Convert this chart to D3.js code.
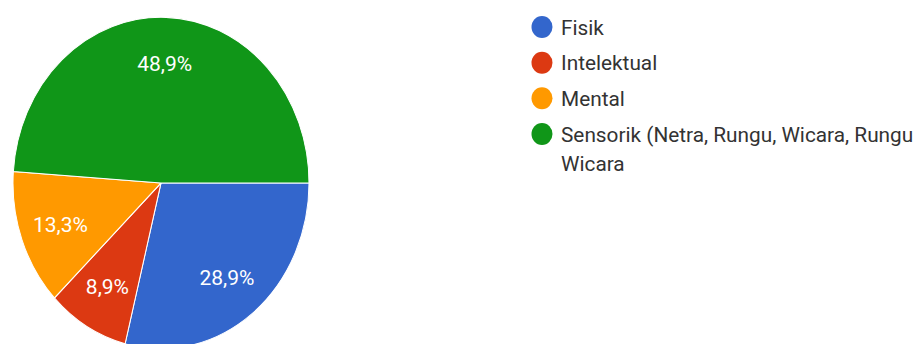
<!DOCTYPE html>
<html>
<head>
<meta charset="utf-8">
<script src="https://cdn.jsdelivr.net/npm/d3@7"></script>
<style>
    html, body { margin: 0; padding: 0; background: #fff; }
    svg { display: block; }
</style>
</head>
<body>
<svg id="chart"></svg>
<script>
// data
const categories = ['Fisik', 'Intelektual', 'Mental', 'Sensorik (Netra, Rungu, Wicara, Rungu'];
const legendLines = [['Fisik'], ['Intelektual'], ['Mental'], ['Sensorik (Netra, Rungu, Wicara, Rungu', 'Wicara']];
const values = [28.9, 8.9, 13.3, 48.9];
const sliceLabels = ['28,9%', '8,9%', '13,3%', '48,9%'];
const colors = ['#3366cc', '#dc3912', '#ff9900', '#109618'];

const width = 915, height = 344;
const cx = 161, cy = 183;
const rx = 148;
const stretch = 1.12; // the pie in the screenshot is a bit taller than wide

const svg = d3.select('#chart')
    .attr('width', width)
    .attr('height', height);

const color = d3.scaleOrdinal()
    .domain(categories)
    .range(colors);

const pie = d3.pie()
    .sort(null)
    .value(d => d.value)
    .startAngle(Math.PI / 2)
    .endAngle(Math.PI / 2 + 2 * Math.PI);

let pieData = categories.map((c, i) => ({ name: c, value: values[i], label: sliceLabels[i] }));
let arcs = pie(pieData);

const arc = d3.arc().innerRadius(0).outerRadius(rx);
const labelArc = d3.arc().innerRadius(107).outerRadius(107);

const pieGroup = svg.append('g')
    .attr('transform', `translate(${cx},${cy}) scale(1,${stretch})`);

pieGroup.selectAll('path')
    .data(arcs)
    .join('path')
    .attr('d', arc)
    .attr('fill', d => color(d.data.name))
    .attr('stroke', '#fff')
    .attr('stroke-width', 1);

// labels sit outside the stretched group
svg.append('g')
    .selectAll('text')
    .data(arcs)
    .join('text')
    .attr('transform', d => {
        let [x, y] = labelArc.centroid(d);
        return `translate(${cx + x},${cy + y * stretch})`;
    })
    .attr('text-anchor', 'middle')
    .attr('dy', '0.36em')
    .attr('font-family', 'Roboto, Arial, sans-serif')
    .attr('font-size', 21)
    .attr('fill', '#fff')
    .text(d => d.data.label);

// legend
const legendY = d3.scalePoint()
    .domain(categories)
    .range([27, 134]);

const legend = svg.append('g').attr('class', 'legend');

const items = legend.selectAll('g')
    .data(categories)
    .join('g')
    .attr('transform', d => `translate(542,${legendY(d)})`);

items.append('ellipse')
    .attr('rx', 10.5)
    .attr('ry', 11)
    .attr('fill', d => color(d));

items.each(function (d, i) {
    let lines = legendLines[i];
    lines.forEach((line, j) => {
        d3.select(this).append('text')
            .attr('x', 19)
            .attr('y', j * 30)
            .attr('dy', '0.36em')
            .attr('font-family', 'Roboto, Arial, sans-serif')
            .attr('font-size', 20.8)
            .attr('fill', '#333')
            .text(line);
    });
});
</script>
</body>
</html>
